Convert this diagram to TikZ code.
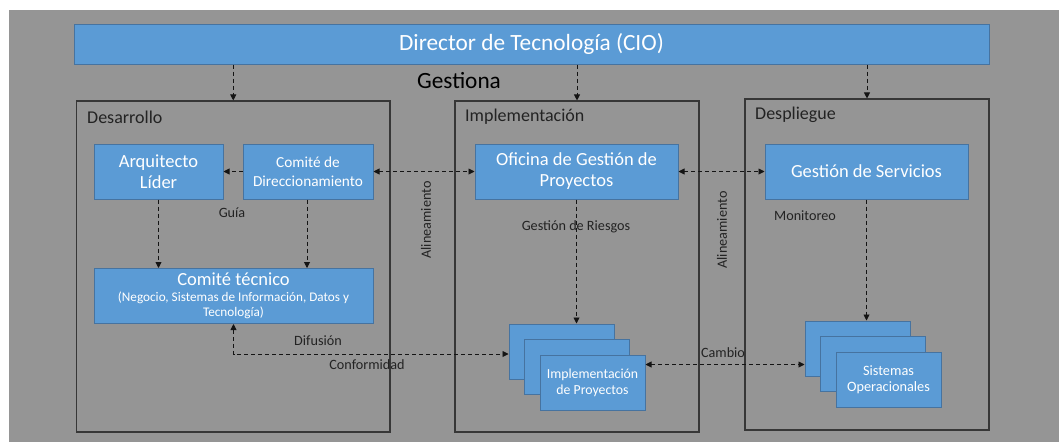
\documentclass[tikz,border=0pt]{standalone}
\usepackage{fontspec}
\setmainfont{Carlito}
\usetikzlibrary{arrows.meta,calc}
\definecolor{bgray}{RGB}{149,149,149}
\definecolor{boxblue}{RGB}{91,155,213}
\definecolor{boxline}{RGB}{70,115,160}
\definecolor{panelline}{RGB}{55,55,55}
\definecolor{labeltext}{RGB}{35,35,35}
\definecolor{arrowc}{RGB}{20,20,20}
\begin{document}
\begin{tikzpicture}[x=1pt,y=-1pt,
  bluebox/.style={draw=boxline,line width=1pt,fill=boxblue,text=white,inner sep=0pt,align=center},
  panel/.style={draw=panelline,line width=1.1pt,inner sep=0pt},
  paneltitle/.style={text=labeltext,font=\fontsize{18}{21}\selectfont,anchor=west,inner sep=0pt},
  lbl/.style={text=labeltext,font=\fontsize{14.2}{17}\selectfont,inner sep=0pt},
  conn/.style={draw=arrowc,line width=0.9pt,dash pattern=on 4pt off 3pt,-{Triangle[length=6pt,width=6pt]}},
  dbl/.style={draw=arrowc,line width=0.9pt,dash pattern=on 4pt off 3pt,{Triangle[length=6pt,width=6pt]}-{Triangle[length=6pt,width=6pt]}}
]
\useasboundingbox (0,0) rectangle (1059,442);
\fill[white] (0,0) rectangle (1059,442);
\fill[bgray] (9,10) rectangle (1059,442);

% top box
\node[bluebox,minimum width=915pt,minimum height=40pt,font=\fontsize{23.3}{27}\selectfont] (cio) at (531.5,44) {Director de Tecnología (CIO)};
\node[text=black,font=\fontsize{23.3}{27}\selectfont,inner sep=0pt] (gestiona) at (459,81) {Gestiona};

% panels
\node[panel,minimum width=313.5pt,minimum height=331pt] (desa) at (233.25,266.5) {};
\node[panel,minimum width=244pt,minimum height=331pt] (impl) at (577,266.5) {};
\node[panel,minimum width=244pt,minimum height=331pt] (desp) at (867,264.5) {};
\node[paneltitle] (desaT) at (87,117) {Desarrollo};
\node[paneltitle] (implT) at (465,117) {Implementación};
\node[paneltitle] (despT) at (755,115) {Despliegue};

% Desarrollo boxes
\node[bluebox,minimum width=129pt,minimum height=55pt,font=\fontsize{18.5}{21}\selectfont] (arq) at (158.5,171.5) {Arquitecto\\Líder};
\node[bluebox,minimum width=130pt,minimum height=55pt,font=\fontsize{15.3}{19}\selectfont] (cdir) at (308,171.5) {Comité de\\Direccionamiento};
\node[bluebox,minimum width=279pt,minimum height=55pt,font=\fontsize{13.2}{15}\selectfont] (ctec) at (233.5,296) {{\fontsize{18.5}{15}\selectfont Comité técnico}\\[1.5pt](Negocio, Sistemas de Información, Datos y\\Tecnología)};

% Implementacion boxes
\node[bluebox,minimum width=203pt,minimum height=55pt,font=\fontsize{18.5}{21}\selectfont] (ofi) at (576.5,171.5) {Oficina de Gestión de\\Proyectos};
\node[bluebox,minimum width=105pt,minimum height=55pt] (ipa) at (561.5,351.5) {};
\node[bluebox,minimum width=105pt,minimum height=55pt] (ipb) at (577,367) {};
\node[bluebox,minimum width=105pt,minimum height=55pt,font=\fontsize{13.8}{16}\selectfont] (ipc) at (592.5,382.5) {Implementación\\de Proyectos};

% Despliegue boxes
\node[bluebox,minimum width=203pt,minimum height=55pt,font=\fontsize{18.5}{21}\selectfont] (gds) at (866.5,171.5) {Gestión de Servicios};
\node[bluebox,minimum width=105pt,minimum height=55pt] (soa) at (857.5,348.5) {};
\node[bluebox,minimum width=105pt,minimum height=55pt] (sob) at (873,364) {};
\node[bluebox,minimum width=105pt,minimum height=55pt,font=\fontsize{14.3}{16}\selectfont] (soc) at (888.5,379.5) {Sistemas\\Operacionales};

% connectors
\draw[conn] (cio.south -| desa.north) -- (desa.north);
\draw[conn] (cio.south -| impl.north) -- (impl.north);
\draw[conn] (cio.south -| desp.north) -- (desp.north);
\draw[conn] (cdir.west) -- (arq.east);
\draw[conn] (arq.south) -- (arq.south |- ctec.north);
\draw[conn] ([xshift=-1pt]cdir.south) -- ([xshift=-1pt]cdir.south |- ctec.north);
\draw[dbl] (cdir.east) -- (ofi.west);
\draw[dbl] (ofi.east) -- (gds.west);
\draw[conn] (ofi.south) -- (ofi.south |- ipa.north);
\draw[conn] (gds.south) -- (gds.south |- soa.north);
\draw[dbl] (ctec.south) |- ([yshift=-2.5pt]ipa.west);
\draw[dbl] ([yshift=18pt]ipc.east) -- ([yshift=18pt]ipc.east -| soa.west);

% labels
\node[lbl] (guia) at (232,213) {Guía};
\node[lbl] (riesgos) at (576,227) {Gestión de Riesgos};
\node[lbl] (moni) at (805,216) {Monitoreo};
\node[lbl] (difu) at (318,341) {Difusión};
\node[lbl] (confo) at (367,365) {Conformidad};
\node[lbl] (cambio) at (723,353) {Cambio};
\node[lbl,rotate=90] (alinA) at (426,220) {Alineamiento};
\node[lbl,rotate=90] (alinB) at (722,230) {Alineamiento};
\end{tikzpicture}
\end{document}
